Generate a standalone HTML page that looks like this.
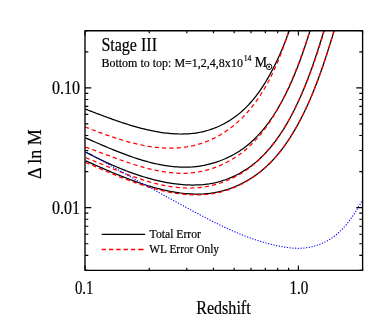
<!DOCTYPE html><html><head><meta charset="utf-8"><title>chart</title>
<style>html,body{margin:0;padding:0;background:#fff}svg{display:block}text{font-family:"Liberation Serif",serif;fill:#000;stroke:#000;stroke-width:0.2px}</style></head><body>
<svg width="388" height="332" viewBox="0 0 388 332" style="will-change:transform">
<rect width="388" height="332" fill="#fff"/>
<defs><clipPath id="c"><rect x="85.0" y="30.7" width="277.6" height="239.60000000000002"/></clipPath></defs>
<g clip-path="url(#c)" fill="none" stroke-linejoin="round">
<path d="M85.28,109.06 L86.79,109.64 L88.32,110.22 L89.86,110.81 L91.41,111.41 L92.97,112.01 L94.55,112.61 L96.14,113.21 L97.74,113.82 L99.35,114.43 L100.97,115.04 L102.60,115.66 L104.24,116.27 L105.89,116.88 L107.55,117.49 L109.22,118.10 L110.90,118.71 L112.58,119.31 L114.28,119.91 L115.98,120.51 L117.69,121.10 L119.41,121.68 L121.13,122.26 L122.86,122.84 L124.60,123.40 L126.34,123.96 L128.09,124.51 L129.84,125.05 L131.60,125.58 L133.37,126.10 L135.14,126.61 L136.91,127.11 L138.68,127.60 L140.46,128.07 L142.25,128.53 L144.03,128.98 L145.82,129.41 L147.61,129.82 L149.40,130.22 L151.19,130.61 L152.99,130.97 L154.78,131.32 L156.58,131.65 L158.37,131.96 L160.17,132.26 L161.97,132.53 L163.76,132.78 L165.55,133.01 L167.35,133.22 L169.14,133.40 L170.93,133.56 L172.71,133.70 L174.50,133.81 L176.28,133.90 L178.06,133.96 L179.83,134.00 L181.60,134.01 L183.37,133.99 L185.13,133.94 L186.89,133.87 L188.64,133.76 L190.38,133.62 L192.13,133.46 L193.86,133.26 L195.59,133.03 L197.31,132.77 L199.02,132.48 L200.73,132.15 L202.43,131.78 L204.12,131.39 L205.80,130.95 L207.48,130.48 L209.14,129.98 L210.80,129.44 L212.44,128.87 L214.07,128.27 L215.70,127.63 L217.31,126.96 L218.90,126.25 L220.49,125.52 L222.06,124.75 L223.61,123.95 L225.15,123.13 L226.68,122.27 L228.18,121.38 L229.68,120.47 L231.15,119.52 L232.61,118.55 L234.05,117.55 L235.47,116.52 L236.87,115.46 L238.25,114.38 L239.61,113.28 L240.94,112.14 L242.26,110.99 L243.56,109.80 L244.83,108.60 L246.09,107.37 L247.32,106.12 L248.53,104.84 L249.73,103.55 L250.90,102.24 L252.06,100.90 L253.19,99.55 L254.31,98.17 L255.41,96.78 L256.50,95.38 L257.57,93.95 L258.62,92.51 L259.65,91.05 L260.67,89.58 L261.67,88.10 L262.66,86.60 L263.63,85.09 L264.59,83.57 L265.53,82.04 L266.46,80.49 L267.38,78.94 L268.29,77.37 L269.18,75.80 L270.05,74.22 L270.92,72.63 L271.77,71.04 L272.62,69.43 L273.44,67.83 L274.26,66.22 L275.07,64.60 L275.86,62.98 L276.64,61.36 L277.41,59.73 L278.17,58.11 L278.92,56.48 L279.66,54.85 L280.38,53.21 L281.10,51.58 L281.80,49.94 L282.49,48.30 L283.17,46.67 L283.84,45.03 L284.49,43.39 L285.14,41.74 L285.77,40.10 L286.39,38.46 L287.00,36.81 L287.60,35.17 L288.18,33.53 L288.76,31.88 L289.32,30.24 L289.87,28.60 L290.40,26.95 L290.93,25.31 L291.44,23.67 L291.94,22.02 L292.43,20.38 L292.91,18.74 L293.37,17.10 L293.82,15.47 L294.26,13.83 L294.69,12.20 L295.10,10.56" stroke="#000" stroke-width="1.25"/>
<path d="M85.50,137.94 L87.21,138.67 L88.94,139.42 L90.68,140.17 L92.44,140.94 L94.22,141.70 L96.01,142.48 L97.81,143.26 L99.64,144.05 L101.47,144.83 L103.32,145.62 L105.18,146.42 L107.06,147.21 L108.95,148.00 L110.85,148.79 L112.77,149.57 L114.69,150.35 L116.63,151.13 L118.57,151.90 L120.53,152.66 L122.49,153.42 L124.47,154.16 L126.45,154.90 L128.45,155.62 L130.45,156.33 L132.45,157.03 L134.47,157.72 L136.49,158.39 L138.52,159.04 L140.55,159.67 L142.59,160.29 L144.63,160.89 L146.68,161.47 L148.74,162.02 L150.79,162.56 L152.85,163.06 L154.91,163.55 L156.98,164.01 L159.04,164.44 L161.11,164.85 L163.18,165.22 L165.25,165.57 L167.32,165.89 L169.39,166.17 L171.45,166.43 L173.52,166.64 L175.59,166.83 L177.65,166.97 L179.71,167.09 L181.77,167.16 L183.83,167.19 L185.88,167.19 L187.92,167.14 L189.97,167.05 L192.00,166.93 L194.03,166.76 L196.06,166.55 L198.08,166.30 L200.08,166.01 L202.08,165.68 L204.08,165.32 L206.06,164.91 L208.03,164.46 L209.99,163.98 L211.93,163.46 L213.87,162.90 L215.79,162.30 L217.70,161.66 L219.59,160.99 L221.47,160.28 L223.34,159.53 L225.18,158.74 L227.01,157.92 L228.82,157.06 L230.62,156.17 L232.39,155.23 L234.15,154.27 L235.88,153.27 L237.60,152.23 L239.29,151.16 L240.96,150.05 L242.61,148.90 L244.24,147.73 L245.84,146.52 L247.41,145.27 L248.96,143.99 L250.49,142.68 L251.99,141.34 L253.47,139.96 L254.93,138.56 L256.36,137.13 L257.77,135.67 L259.16,134.18 L260.52,132.67 L261.86,131.13 L263.18,129.56 L264.48,127.97 L265.76,126.36 L267.02,124.73 L268.25,123.07 L269.47,121.40 L270.67,119.71 L271.84,117.99 L273.00,116.26 L274.14,114.52 L275.26,112.75 L276.36,110.98 L277.44,109.19 L278.51,107.38 L279.56,105.56 L280.59,103.73 L281.60,101.90 L282.60,100.05 L283.58,98.19 L284.54,96.32 L285.49,94.45 L286.42,92.57 L287.34,90.69 L288.24,88.80 L289.13,86.90 L290.01,85.00 L290.87,83.09 L291.71,81.18 L292.55,79.27 L293.37,77.35 L294.17,75.43 L294.97,73.50 L295.75,71.58 L296.52,69.65 L297.28,67.72 L298.03,65.78 L298.77,63.85 L299.49,61.91 L300.21,59.98 L300.91,58.04 L301.61,56.10 L302.30,54.17 L302.97,52.23 L303.64,50.30 L304.30,48.37 L304.95,46.44 L305.60,44.51 L306.23,42.58 L306.86,40.66 L307.49,38.74 L308.10,36.82 L308.71,34.91 L309.31,33.00 L309.91,31.10 L310.50,29.20 L311.08,27.30 L311.66,25.42 L312.24,23.53 L312.81,21.66 L313.38,19.79 L313.94,17.93 L314.50,16.07 L315.06,14.22 L315.61,12.39 L316.16,10.55" stroke="#000" stroke-width="1.25"/>
<path d="M85.56,152.08 L87.31,153.00 L89.07,153.92 L90.87,154.85 L92.69,155.77 L94.53,156.70 L96.39,157.63 L98.28,158.56 L100.19,159.49 L102.13,160.41 L104.08,161.33 L106.05,162.25 L108.05,163.16 L110.06,164.07 L112.09,164.97 L114.14,165.86 L116.20,166.75 L118.28,167.62 L120.38,168.48 L122.49,169.33 L124.61,170.17 L126.75,171.00 L128.90,171.81 L131.07,172.61 L133.24,173.39 L135.43,174.15 L137.62,174.90 L139.83,175.62 L142.04,176.33 L144.26,177.02 L146.49,177.68 L148.73,178.32 L150.97,178.94 L153.22,179.54 L155.47,180.10 L157.73,180.65 L159.99,181.16 L162.25,181.65 L164.51,182.11 L166.78,182.54 L169.04,182.94 L171.31,183.30 L173.58,183.64 L175.84,183.94 L178.10,184.21 L180.36,184.44 L182.62,184.63 L184.87,184.79 L187.12,184.91 L189.36,184.99 L191.60,185.03 L193.83,185.03 L196.05,184.98 L198.27,184.90 L200.47,184.77 L202.67,184.60 L204.85,184.38 L207.03,184.11 L209.19,183.80 L211.34,183.44 L213.48,183.03 L215.61,182.57 L217.72,182.06 L219.82,181.50 L221.90,180.88 L223.96,180.22 L226.01,179.51 L228.04,178.75 L230.06,177.95 L232.05,177.09 L234.03,176.19 L235.98,175.25 L237.91,174.26 L239.83,173.23 L241.72,172.16 L243.58,171.04 L245.43,169.88 L247.25,168.68 L249.04,167.45 L250.81,166.17 L252.55,164.85 L254.27,163.50 L255.96,162.11 L257.62,160.68 L259.25,159.22 L260.85,157.72 L262.43,156.19 L263.98,154.63 L265.50,153.04 L267.00,151.41 L268.47,149.76 L269.92,148.08 L271.34,146.38 L272.74,144.64 L274.11,142.88 L275.46,141.10 L276.79,139.30 L278.09,137.47 L279.37,135.62 L280.63,133.76 L281.86,131.87 L283.08,129.97 L284.27,128.05 L285.44,126.11 L286.60,124.16 L287.73,122.20 L288.84,120.22 L289.94,118.23 L291.01,116.24 L292.07,114.23 L293.11,112.21 L294.13,110.19 L295.13,108.16 L296.12,106.13 L297.09,104.09 L298.05,102.04 L298.99,100.00 L299.91,97.95 L300.82,95.89 L301.72,93.84 L302.60,91.78 L303.47,89.71 L304.32,87.64 L305.17,85.58 L306.00,83.50 L306.81,81.43 L307.62,79.35 L308.41,77.27 L309.20,75.19 L309.97,73.11 L310.73,71.02 L311.49,68.93 L312.23,66.85 L312.97,64.76 L313.69,62.66 L314.41,60.57 L315.12,58.48 L315.82,56.38 L316.52,54.29 L317.21,52.19 L317.89,50.09 L318.57,48.00 L319.25,45.90 L319.91,43.80 L320.58,41.70 L321.23,39.61 L321.89,37.51 L322.54,35.41 L323.19,33.31 L323.84,31.22 L324.48,29.12 L325.12,27.03 L325.76,24.94 L326.40,22.85 L327.04,20.76 L327.68,18.67 L328.31,16.58 L328.95,14.49 L329.59,12.41 L330.23,10.33" stroke="#000" stroke-width="1.25"/>
<path d="M85.67,160.83 L87.63,161.69 L89.60,162.56 L91.59,163.44 L93.59,164.32 L95.62,165.22 L97.66,166.11 L99.72,167.02 L101.79,167.92 L103.88,168.83 L105.98,169.74 L108.09,170.65 L110.22,171.56 L112.37,172.46 L114.52,173.37 L116.69,174.27 L118.87,175.16 L121.06,176.04 L123.26,176.92 L125.48,177.79 L127.70,178.65 L129.93,179.50 L132.17,180.33 L134.42,181.15 L136.68,181.96 L138.94,182.75 L141.21,183.53 L143.49,184.28 L145.77,185.02 L148.06,185.74 L150.35,186.43 L152.65,187.10 L154.95,187.75 L157.26,188.38 L159.57,188.97 L161.88,189.55 L164.20,190.09 L166.51,190.60 L168.83,191.08 L171.14,191.54 L173.46,191.95 L175.78,192.34 L178.10,192.69 L180.41,193.00 L182.72,193.28 L185.04,193.52 L187.34,193.71 L189.65,193.87 L191.95,193.99 L194.25,194.06 L196.54,194.09 L198.83,194.07 L201.11,194.01 L203.39,193.90 L205.66,193.74 L207.92,193.53 L210.17,193.27 L212.42,192.96 L214.66,192.60 L216.89,192.18 L219.11,191.70 L221.32,191.17 L223.52,190.59 L225.70,189.96 L227.87,189.27 L230.03,188.54 L232.17,187.75 L234.30,186.92 L236.41,186.03 L238.50,185.10 L240.57,184.12 L242.62,183.09 L244.65,182.02 L246.66,180.91 L248.65,179.75 L250.61,178.54 L252.55,177.30 L254.46,176.01 L256.34,174.68 L258.20,173.32 L260.02,171.91 L261.82,170.46 L263.59,168.98 L265.33,167.46 L267.03,165.91 L268.70,164.32 L270.34,162.69 L271.96,161.04 L273.54,159.35 L275.09,157.64 L276.61,155.89 L278.11,154.12 L279.58,152.32 L281.02,150.49 L282.43,148.65 L283.82,146.77 L285.18,144.88 L286.52,142.97 L287.83,141.04 L289.12,139.08 L290.39,137.12 L291.64,135.13 L292.86,133.14 L294.06,131.12 L295.24,129.10 L296.40,127.07 L297.54,125.02 L298.66,122.97 L299.77,120.91 L300.85,118.84 L301.92,116.76 L302.96,114.68 L304.00,112.59 L305.01,110.49 L306.01,108.38 L306.99,106.27 L307.96,104.15 L308.91,102.03 L309.84,99.90 L310.77,97.76 L311.67,95.62 L312.57,93.47 L313.45,91.32 L314.32,89.16 L315.17,87.00 L316.02,84.83 L316.85,82.66 L317.67,80.49 L318.48,78.31 L319.28,76.13 L320.07,73.95 L320.85,71.76 L321.62,69.57 L322.38,67.38 L323.13,65.19 L323.88,62.99 L324.61,60.79 L325.34,58.59 L326.07,56.39 L326.78,54.19 L327.49,51.99 L328.20,49.78 L328.90,47.58 L329.59,45.37 L330.28,43.17 L330.97,40.97 L331.65,38.76 L332.33,36.56 L333.00,34.36 L333.68,32.16 L334.35,29.96 L335.02,27.77 L335.69,25.57 L336.35,23.38 L337.02,21.19 L337.69,19.00 L338.35,16.82 L339.02,14.63 L339.69,12.46 L340.36,10.28" stroke="#000" stroke-width="1.25"/>
<path d="M84.87,126.85 L86.49,127.48 L88.12,128.12 L89.75,128.76 L91.41,129.39 L93.07,130.03 L94.74,130.67 L96.43,131.31 L98.12,131.94 L99.83,132.57 L101.54,133.20 L103.27,133.83 L105.00,134.45 L106.74,135.06 L108.49,135.67 L110.25,136.28 L112.02,136.87 L113.79,137.46 L115.57,138.04 L117.36,138.61 L119.16,139.17 L120.96,139.72 L122.76,140.26 L124.57,140.79 L126.39,141.30 L128.21,141.80 L130.03,142.29 L131.86,142.76 L133.69,143.22 L135.52,143.66 L137.36,144.09 L139.20,144.50 L141.04,144.89 L142.88,145.26 L144.72,145.61 L146.57,145.95 L148.41,146.26 L150.26,146.55 L152.11,146.82 L153.95,147.07 L155.79,147.29 L157.64,147.49 L159.48,147.67 L161.32,147.82 L163.15,147.95 L164.99,148.05 L166.82,148.12 L168.65,148.16 L170.47,148.18 L172.29,148.16 L174.11,148.12 L175.92,148.05 L177.72,147.94 L179.52,147.81 L181.32,147.64 L183.10,147.44 L184.88,147.20 L186.66,146.94 L188.43,146.64 L190.18,146.31 L191.94,145.94 L193.68,145.55 L195.41,145.12 L197.14,144.66 L198.85,144.17 L200.56,143.65 L202.26,143.09 L203.94,142.51 L205.61,141.89 L207.28,141.24 L208.93,140.56 L210.57,139.86 L212.20,139.12 L213.81,138.35 L215.41,137.54 L217.00,136.71 L218.58,135.85 L220.14,134.96 L221.68,134.04 L223.21,133.09 L224.73,132.11 L226.23,131.10 L227.71,130.07 L229.18,129.01 L230.63,127.92 L232.07,126.81 L233.49,125.68 L234.89,124.52 L236.27,123.33 L237.63,122.13 L238.98,120.91 L240.30,119.66 L241.61,118.39 L242.90,117.11 L244.16,115.80 L245.41,114.48 L246.64,113.14 L247.85,111.78 L249.04,110.40 L250.21,109.01 L251.37,107.60 L252.50,106.18 L253.62,104.74 L254.72,103.28 L255.80,101.81 L256.87,100.33 L257.92,98.83 L258.95,97.32 L259.97,95.79 L260.96,94.26 L261.95,92.71 L262.91,91.15 L263.86,89.58 L264.80,87.99 L265.72,86.40 L266.63,84.79 L267.52,83.18 L268.39,81.56 L269.25,79.93 L270.10,78.29 L270.93,76.64 L271.75,74.99 L272.56,73.32 L273.35,71.65 L274.13,69.98 L274.90,68.30 L275.65,66.61 L276.39,64.92 L277.12,63.22 L277.84,61.52 L278.54,59.82 L279.23,58.11 L279.92,56.40 L280.59,54.69 L281.25,52.97 L281.90,51.26 L282.53,49.54 L283.16,47.82 L283.78,46.10 L284.39,44.38 L284.99,42.66 L285.58,40.95 L286.16,39.23 L286.73,37.52 L287.29,35.80 L287.85,34.09 L288.39,32.39 L288.93,30.68 L289.46,28.98 L289.98,27.29 L290.49,25.59 L291.00,23.91 L291.50,22.23 L291.99,20.55 L292.48,18.88 L292.96,17.22 L293.43,15.57 L293.90,13.92 L294.36,12.28 L294.82,10.65" stroke="#f00" stroke-width="1.25" stroke-dasharray="4.2 3.1"/>
<path d="M85.35,147.10 L87.12,147.71 L88.89,148.33 L90.69,148.97 L92.50,149.62 L94.33,150.28 L96.18,150.96 L98.04,151.64 L99.91,152.34 L101.80,153.04 L103.71,153.75 L105.62,154.46 L107.55,155.18 L109.49,155.91 L111.45,156.63 L113.41,157.35 L115.39,158.08 L117.37,158.80 L119.37,159.52 L121.37,160.23 L123.39,160.94 L125.41,161.64 L127.44,162.33 L129.48,163.02 L131.52,163.69 L133.58,164.35 L135.63,164.99 L137.70,165.63 L139.76,166.24 L141.84,166.84 L143.91,167.42 L145.99,167.99 L148.08,168.53 L150.16,169.04 L152.25,169.54 L154.34,170.01 L156.43,170.46 L158.52,170.87 L160.61,171.26 L162.70,171.62 L164.79,171.95 L166.88,172.25 L168.96,172.51 L171.05,172.74 L173.13,172.94 L175.21,173.09 L177.28,173.21 L179.35,173.29 L181.41,173.33 L183.47,173.32 L185.53,173.28 L187.58,173.18 L189.62,173.05 L191.65,172.87 L193.68,172.64 L195.69,172.37 L197.70,172.06 L199.70,171.71 L201.69,171.31 L203.67,170.87 L205.63,170.39 L207.59,169.87 L209.53,169.31 L211.46,168.71 L213.37,168.07 L215.28,167.39 L217.16,166.67 L219.04,165.91 L220.89,165.12 L222.73,164.28 L224.56,163.41 L226.36,162.50 L228.15,161.56 L229.92,160.58 L231.67,159.57 L233.40,158.52 L235.12,157.43 L236.81,156.31 L238.47,155.16 L240.12,153.97 L241.75,152.75 L243.35,151.50 L244.93,150.21 L246.48,148.90 L248.01,147.55 L249.52,146.17 L251.00,144.77 L252.46,143.33 L253.89,141.86 L255.31,140.37 L256.70,138.86 L258.06,137.31 L259.41,135.75 L260.73,134.15 L262.03,132.54 L263.31,130.91 L264.57,129.25 L265.81,127.58 L267.03,125.88 L268.23,124.17 L269.42,122.44 L270.58,120.69 L271.72,118.93 L272.84,117.15 L273.95,115.36 L275.04,113.55 L276.11,111.74 L277.16,109.91 L278.20,108.07 L279.22,106.23 L280.23,104.37 L281.22,102.51 L282.19,100.64 L283.15,98.76 L284.09,96.88 L285.02,94.99 L285.93,93.10 L286.84,91.21 L287.72,89.32 L288.60,87.42 L289.46,85.52 L290.31,83.61 L291.14,81.70 L291.97,79.79 L292.78,77.88 L293.58,75.97 L294.37,74.05 L295.15,72.13 L295.92,70.21 L296.68,68.29 L297.43,66.36 L298.18,64.44 L298.91,62.51 L299.63,60.58 L300.35,58.65 L301.05,56.72 L301.75,54.79 L302.45,52.85 L303.13,50.92 L303.81,48.99 L304.48,47.05 L305.15,45.12 L305.81,43.19 L306.46,41.25 L307.12,39.32 L307.76,37.38 L308.40,35.45 L309.04,33.52 L309.67,31.58 L310.30,29.65 L310.93,27.72 L311.55,25.79 L312.17,23.86 L312.79,21.94 L313.41,20.01 L314.03,18.09 L314.64,16.16 L315.26,14.24 L315.87,12.32 L316.48,10.41" stroke="#f00" stroke-width="1.25" stroke-dasharray="4.2 3.1"/>
<path d="M85.81,157.71 L87.70,158.45 L89.60,159.21 L91.53,159.99 L93.47,160.77 L95.42,161.57 L97.39,162.38 L99.38,163.20 L101.38,164.02 L103.39,164.85 L105.42,165.69 L107.46,166.53 L109.51,167.37 L111.58,168.21 L113.65,169.05 L115.74,169.89 L117.84,170.73 L119.95,171.57 L122.07,172.39 L124.20,173.22 L126.34,174.03 L128.49,174.83 L130.64,175.62 L132.81,176.40 L134.98,177.17 L137.15,177.92 L139.34,178.66 L141.53,179.38 L143.72,180.07 L145.92,180.75 L148.13,181.41 L150.34,182.04 L152.55,182.65 L154.77,183.24 L156.99,183.80 L159.21,184.33 L161.43,184.83 L163.66,185.30 L165.88,185.73 L168.11,186.14 L170.34,186.51 L172.57,186.84 L174.79,187.13 L177.02,187.39 L179.24,187.61 L181.46,187.78 L183.68,187.91 L185.90,188.00 L188.11,188.04 L190.32,188.04 L192.52,187.99 L194.72,187.89 L196.92,187.74 L199.10,187.54 L201.29,187.29 L203.46,187.00 L205.62,186.66 L207.77,186.27 L209.92,185.84 L212.05,185.36 L214.16,184.84 L216.27,184.27 L218.36,183.65 L220.44,182.99 L222.50,182.29 L224.54,181.54 L226.57,180.75 L228.58,179.92 L230.56,179.04 L232.53,178.12 L234.48,177.16 L236.41,176.16 L238.31,175.11 L240.19,174.02 L242.05,172.90 L243.88,171.73 L245.69,170.52 L247.47,169.28 L249.22,167.99 L250.95,166.67 L252.65,165.31 L254.32,163.91 L255.97,162.48 L257.59,161.02 L259.19,159.52 L260.77,157.99 L262.32,156.43 L263.84,154.84 L265.34,153.22 L266.82,151.57 L268.28,149.89 L269.71,148.19 L271.12,146.46 L272.51,144.71 L273.88,142.94 L275.22,141.14 L276.55,139.33 L277.85,137.49 L279.13,135.63 L280.39,133.76 L281.63,131.86 L282.86,129.96 L284.06,128.03 L285.24,126.09 L286.41,124.14 L287.55,122.18 L288.68,120.20 L289.79,118.22 L290.88,116.22 L291.95,114.22 L293.01,112.21 L294.05,110.19 L295.07,108.16 L296.08,106.14 L297.07,104.10 L298.04,102.07 L299.00,100.03 L299.95,97.99 L300.88,95.94 L301.79,93.90 L302.69,91.85 L303.58,89.79 L304.45,87.74 L305.31,85.68 L306.16,83.62 L307.00,81.55 L307.82,79.48 L308.63,77.41 L309.43,75.34 L310.21,73.27 L310.99,71.19 L311.75,69.11 L312.51,67.03 L313.25,64.95 L313.98,62.86 L314.71,60.77 L315.42,58.68 L316.13,56.59 L316.82,54.50 L317.51,52.40 L318.19,50.31 L318.86,48.21 L319.53,46.11 L320.18,44.01 L320.83,41.90 L321.47,39.80 L322.11,37.69 L322.74,35.59 L323.36,33.48 L323.98,31.37 L324.59,29.26 L325.20,27.15 L325.80,25.04 L326.40,22.92 L327.00,20.81 L327.59,18.69 L328.18,16.58 L328.76,14.46 L329.34,12.35 L329.92,10.23" stroke="#f00" stroke-width="1.25" stroke-dasharray="4.2 3.1"/>
<path d="M85.47,162.37 L87.41,163.20 L89.37,164.05 L91.35,164.91 L93.35,165.78 L95.37,166.65 L97.41,167.53 L99.46,168.42 L101.54,169.31 L103.62,170.20 L105.73,171.10 L107.85,171.99 L109.99,172.88 L112.14,173.77 L114.30,174.66 L116.48,175.55 L118.67,176.43 L120.87,177.30 L123.08,178.17 L125.31,179.02 L127.54,179.87 L129.79,180.70 L132.05,181.53 L134.31,182.34 L136.58,183.13 L138.86,183.91 L141.15,184.67 L143.44,185.42 L145.75,186.14 L148.05,186.85 L150.36,187.53 L152.68,188.19 L155.00,188.83 L157.32,189.44 L159.65,190.03 L161.98,190.59 L164.31,191.12 L166.65,191.62 L168.98,192.09 L171.31,192.52 L173.65,192.93 L175.98,193.30 L178.31,193.64 L180.64,193.94 L182.97,194.20 L185.29,194.42 L187.61,194.60 L189.93,194.74 L192.24,194.84 L194.54,194.90 L196.85,194.91 L199.14,194.88 L201.43,194.79 L203.71,194.67 L205.98,194.49 L208.24,194.26 L210.50,193.98 L212.74,193.64 L214.98,193.26 L217.20,192.82 L219.42,192.32 L221.62,191.77 L223.81,191.16 L225.98,190.50 L228.14,189.79 L230.29,189.03 L232.42,188.22 L234.53,187.36 L236.62,186.45 L238.70,185.49 L240.75,184.49 L242.79,183.44 L244.80,182.34 L246.79,181.20 L248.76,180.02 L250.71,178.80 L252.63,177.53 L254.52,176.22 L256.39,174.87 L258.23,173.48 L260.05,172.06 L261.84,170.60 L263.59,169.10 L265.32,167.56 L267.01,165.99 L268.68,164.39 L270.31,162.75 L271.92,161.08 L273.50,159.38 L275.05,157.66 L276.57,155.90 L278.06,154.12 L279.53,152.31 L280.97,150.48 L282.39,148.63 L283.78,146.75 L285.14,144.85 L286.48,142.94 L287.80,141.00 L289.09,139.05 L290.36,137.08 L291.61,135.09 L292.84,133.10 L294.04,131.08 L295.22,129.06 L296.39,127.03 L297.53,124.99 L298.65,122.94 L299.76,120.88 L300.84,118.81 L301.91,116.74 L302.96,114.66 L304.00,112.57 L305.01,110.48 L306.01,108.38 L306.99,106.27 L307.96,104.16 L308.91,102.04 L309.85,99.91 L310.77,97.78 L311.68,95.64 L312.57,93.50 L313.45,91.36 L314.32,89.21 L315.17,87.05 L316.02,84.89 L316.85,82.72 L317.67,80.56 L318.48,78.38 L319.27,76.21 L320.06,74.03 L320.84,71.84 L321.61,69.66 L322.37,67.47 L323.12,65.28 L323.87,63.08 L324.60,60.89 L325.33,58.69 L326.06,56.49 L326.77,54.29 L327.48,52.09 L328.18,49.88 L328.88,47.68 L329.58,45.47 L330.27,43.26 L330.95,41.06 L331.64,38.85 L332.31,36.64 L332.99,34.43 L333.66,32.23 L334.34,30.02 L335.01,27.81 L335.68,25.61 L336.34,23.40 L337.01,21.20 L337.68,19.00 L338.35,16.80 L339.02,14.60 L339.69,12.41 L340.36,10.21" stroke="#f00" stroke-width="1.25" stroke-dasharray="4.2 3.1"/>
<path d="M84.84,150.86 L86.69,151.93 L88.54,153.00 L90.39,154.06 L92.23,155.12 L94.07,156.18 L95.91,157.24 L97.75,158.29 L99.59,159.34 L101.42,160.39 L103.25,161.43 L105.08,162.47 L106.91,163.51 L108.73,164.55 L110.56,165.58 L112.38,166.61 L114.20,167.64 L116.02,168.67 L117.84,169.70 L119.65,170.72 L121.47,171.74 L123.28,172.76 L125.10,173.77 L126.91,174.79 L128.72,175.80 L130.53,176.81 L132.34,177.82 L134.15,178.83 L135.96,179.84 L137.77,180.84 L139.58,181.85 L141.39,182.85 L143.20,183.85 L145.01,184.85 L146.82,185.85 L148.63,186.85 L150.44,187.85 L152.25,188.85 L154.06,189.85 L155.87,190.84 L157.69,191.84 L159.50,192.83 L161.31,193.83 L163.13,194.82 L164.95,195.81 L166.76,196.81 L168.58,197.80 L170.40,198.80 L172.22,199.79 L174.05,200.78 L175.87,201.78 L177.70,202.77 L179.53,203.77 L181.36,204.76 L183.19,205.76 L185.02,206.76 L186.86,207.75 L188.70,208.75 L190.54,209.75 L192.38,210.74 L194.23,211.74 L196.08,212.73 L197.93,213.72 L199.78,214.71 L201.64,215.69 L203.50,216.67 L205.36,217.65 L207.23,218.62 L209.10,219.58 L210.97,220.54 L212.85,221.50 L214.73,222.44 L216.61,223.38 L218.50,224.31 L220.39,225.23 L222.28,226.14 L224.18,227.04 L226.09,227.93 L227.99,228.81 L229.91,229.68 L231.82,230.54 L233.74,231.38 L235.67,232.21 L237.60,233.03 L239.53,233.83 L241.47,234.62 L243.42,235.40 L245.36,236.16 L247.32,236.90 L249.28,237.62 L251.24,238.33 L253.21,239.02 L255.19,239.69 L257.17,240.35 L259.16,240.98 L261.15,241.60 L263.15,242.19 L265.15,242.76 L267.16,243.31 L269.18,243.84 L271.20,244.35 L273.23,244.83 L275.27,245.30 L277.31,245.73 L279.36,246.14 L281.42,246.53 L283.48,246.89 L285.54,247.21 L287.61,247.50 L289.68,247.75 L291.76,247.96 L293.83,248.12 L295.90,248.22 L297.96,248.27 L300.03,248.25 L302.08,248.18 L304.13,248.03 L306.17,247.80 L308.20,247.51 L310.22,247.14 L312.23,246.69 L314.21,246.18 L316.18,245.59 L318.14,244.94 L320.06,244.21 L321.97,243.42 L323.85,242.57 L325.70,241.64 L327.52,240.66 L329.31,239.61 L331.06,238.50 L332.78,237.34 L334.46,236.11 L336.11,234.82 L337.71,233.48 L339.26,232.08 L340.78,230.64 L342.26,229.14 L343.70,227.60 L345.10,226.02 L346.46,224.40 L347.80,222.75 L349.10,221.07 L350.37,219.36 L351.60,217.63 L352.81,215.88 L354.00,214.12 L355.16,212.34 L356.29,210.55 L357.40,208.75 L358.49,206.96 L359.56,205.16 L360.61,203.37 L361.64,201.59 L362.66,199.82 L363.67,198.06 L364.67,196.33 L365.66,194.61 L366.64,192.92 L367.61,191.26" stroke="#00f" stroke-width="1.22" stroke-linecap="round" stroke-dasharray="0.15 2.6"/>
</g>
<g stroke="#000" stroke-width="1.15" fill="none">
<path d="M85.00,270.3 v-4.9 M85.00,30.7 v4.9"/>
<path d="M149.23,270.3 v-2.5 M149.23,30.7 v2.5"/>
<path d="M186.80,270.3 v-2.5 M186.80,30.7 v2.5"/>
<path d="M213.46,270.3 v-2.5 M213.46,30.7 v2.5"/>
<path d="M234.14,270.3 v-2.5 M234.14,30.7 v2.5"/>
<path d="M251.03,270.3 v-2.5 M251.03,30.7 v2.5"/>
<path d="M265.32,270.3 v-2.5 M265.32,30.7 v2.5"/>
<path d="M277.69,270.3 v-2.5 M277.69,30.7 v2.5"/>
<path d="M288.61,270.3 v-2.5 M288.61,30.7 v2.5"/>
<path d="M298.37,270.3 v-4.9 M298.37,30.7 v4.9"/>
<path d="M362.60,270.3 v-2.5 M362.60,30.7 v2.5"/>
<path d="M85.0,270.30 h3.3 M362.6,270.30 h-3.3"/>
<path d="M85.0,255.33 h3.3 M362.6,255.33 h-3.3"/>
<path d="M85.0,243.72 h3.3 M362.6,243.72 h-3.3"/>
<path d="M85.0,234.24 h3.3 M362.6,234.24 h-3.3"/>
<path d="M85.0,226.22 h3.3 M362.6,226.22 h-3.3"/>
<path d="M85.0,219.27 h3.3 M362.6,219.27 h-3.3"/>
<path d="M85.0,213.14 h3.3 M362.6,213.14 h-3.3"/>
<path d="M85.0,207.66 h6.3 M362.6,207.66 h-6.3"/>
<path d="M85.0,171.60 h3.3 M362.6,171.60 h-3.3"/>
<path d="M85.0,150.50 h3.3 M362.6,150.50 h-3.3"/>
<path d="M85.0,135.53 h3.3 M362.6,135.53 h-3.3"/>
<path d="M85.0,123.92 h3.3 M362.6,123.92 h-3.3"/>
<path d="M85.0,114.44 h3.3 M362.6,114.44 h-3.3"/>
<path d="M85.0,106.42 h3.3 M362.6,106.42 h-3.3"/>
<path d="M85.0,99.47 h3.3 M362.6,99.47 h-3.3"/>
<path d="M85.0,93.34 h3.3 M362.6,93.34 h-3.3"/>
<path d="M85.0,87.86 h6.3 M362.6,87.86 h-6.3"/>
<path d="M85.0,51.80 h3.3 M362.6,51.80 h-3.3"/>
<path d="M85.0,30.70 h3.3 M362.6,30.70 h-3.3"/>
</g>
<rect x="85.0" y="30.7" width="277.6" height="239.60000000000002" fill="none" stroke="#000" stroke-width="1.35" stroke-linejoin="round"/>
<path d="M101.7,234.4 H145.2" stroke="#000" stroke-width="1.3"/>
<path d="M101.7,249.5 H143.6" stroke="#f00" stroke-width="1.3" stroke-dasharray="4.3 3.0 4.3 3.0 4.3 3.0 4.3 3.0 4.3 3.0 5.4 9"/>
<text x="149.6" y="237.5" font-size="12.6" textLength="51.3" lengthAdjust="spacingAndGlyphs">Total Error</text>
<text x="149.3" y="252.6" font-size="12.6" textLength="69.7" lengthAdjust="spacingAndGlyphs">WL Error Only</text>
<text x="101.4" y="50.9" font-size="18.2" textLength="55.6" lengthAdjust="spacingAndGlyphs">Stage III</text>
<text x="101.4" y="66.5" font-size="13.5" textLength="141.5" lengthAdjust="spacingAndGlyphs">Bottom to top: M=1,2,4,8x10</text>
<text x="243.7" y="61.2" font-size="8.8" textLength="7.7" lengthAdjust="spacingAndGlyphs">14</text>
<text x="254.7" y="66.6" font-size="14" textLength="12.3" lengthAdjust="spacingAndGlyphs">M</text>
<circle cx="269.1" cy="66.8" r="2.75" fill="none" stroke="#000" stroke-width="0.95"/><circle cx="269.1" cy="66.8" r="0.95" fill="#000"/>
<text x="52.1" y="93.8" font-size="18" textLength="28" lengthAdjust="spacingAndGlyphs">0.10</text>
<text x="52.1" y="213.5" font-size="18" textLength="28" lengthAdjust="spacingAndGlyphs">0.01</text>
<text x="74.9" y="293.6" font-size="18" textLength="18.6" lengthAdjust="spacingAndGlyphs">0.1</text>
<text x="289.4" y="293.6" font-size="18" textLength="18.9" lengthAdjust="spacingAndGlyphs">1.0</text>
<text x="196.2" y="313.7" font-size="18.4" textLength="54.5" lengthAdjust="spacingAndGlyphs">Redshift</text>
<text transform="translate(41.0,178.9) rotate(-90)" font-size="18" textLength="49.6" lengthAdjust="spacingAndGlyphs">Δ ln M</text>
</svg></body></html>
